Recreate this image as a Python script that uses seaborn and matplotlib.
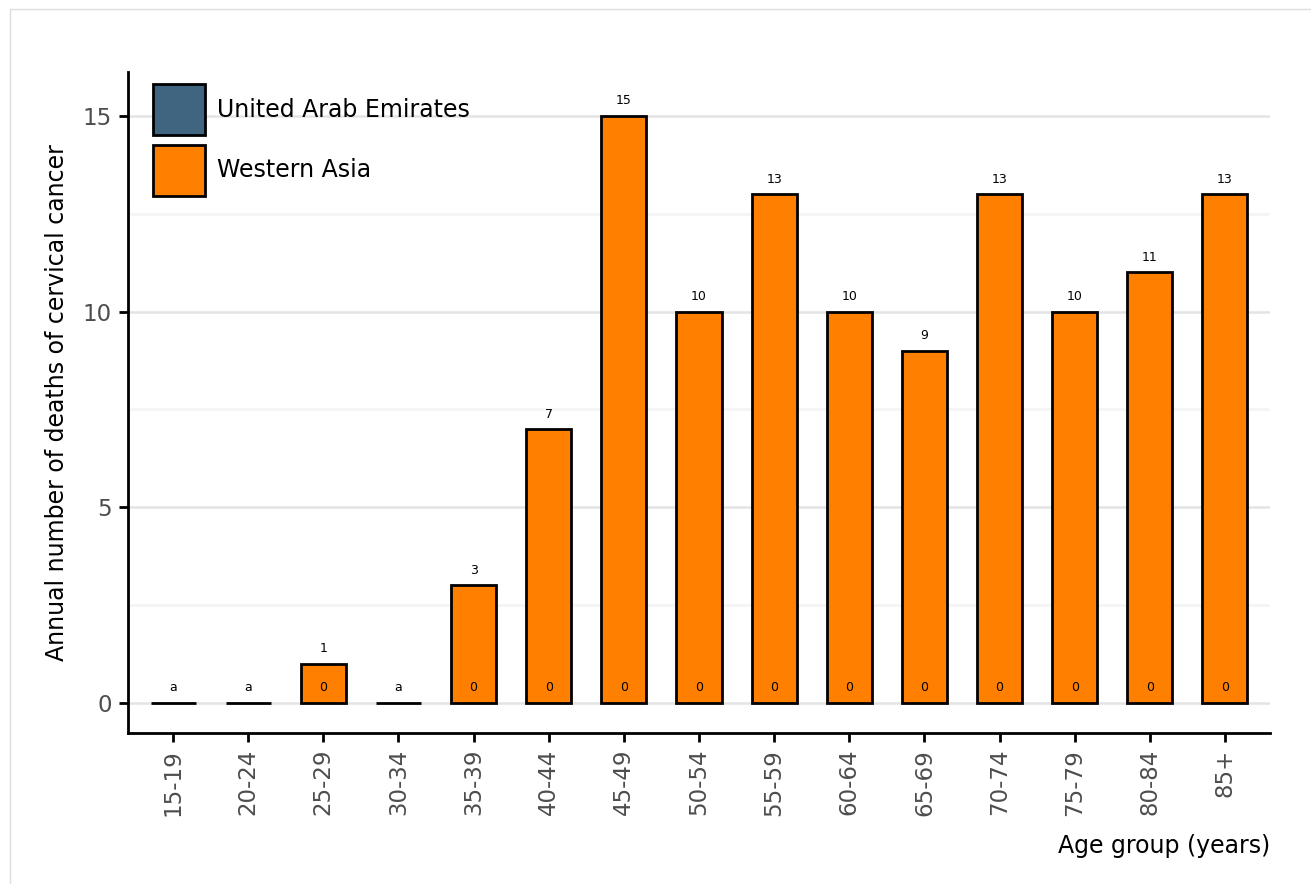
import matplotlib
matplotlib.use("Agg")
import matplotlib.pyplot as plt
import matplotlib.patches as mpatches
import matplotlib.lines as mlines
import seaborn as sns
import pandas as pd

# ---- data ----
age_groups = ["15-19", "20-24", "25-29", "30-34", "35-39", "40-44", "45-49",
              "50-54", "55-59", "60-64", "65-69", "70-74", "75-79", "80-84", "85+"]
western_asia = [0, 0, 1, 0, 3, 7, 15, 10, 13, 10, 9, 13, 10, 11, 13]
uae = [None, None, 0, None, 0, 0, 0, 0, 0, 0, 0, 0, 0, 0, 0]
series_names = ["United Arab Emirates", "Western Asia"]
series_colors = ["#3f6580", "#ff7f00"]

sns.set_theme(style="white")
plt.rcParams["font.family"] = ["DejaVu Sans"]
plt.rcParams["text.color"] = "black"
plt.rcParams["axes.labelcolor"] = "black"

fig = plt.figure(figsize=(13.11, 8.84), dpi=100)
ax = fig.add_axes([128 / 1311, 1 - 733 / 884, 1142 / 1311, 661 / 884])

# figure frame (light grey)
fig.add_artist(mlines.Line2D([10 / 1311, 1.0], [1 - 9 / 884, 1 - 9 / 884],
                             transform=fig.transFigure, color="#dddddd", lw=1))
fig.add_artist(mlines.Line2D([10 / 1311, 10 / 1311], [0, 1 - 9 / 884],
                             transform=fig.transFigure, color="#dddddd", lw=1))

df = pd.DataFrame({"age": age_groups, "deaths": western_asia})

# grid
for y in [2.5, 7.5, 12.5]:
    ax.axhline(y, color="#f4f4f4", lw=1.8, zorder=0)
for y in [0, 5, 10, 15]:
    ax.axhline(y, color="#e4e4e4", lw=1.8, zorder=0)

sns.barplot(data=df, x="age", y="deaths", color=series_colors[1], saturation=1,
            edgecolor="black", linewidth=2, width=0.6, ax=ax, zorder=2)

# labels
for i, (w, u) in enumerate(zip(western_asia, uae)):
    top = "a" if w == 0 else str(w)
    ax.text(i, w + 0.38, top, ha="center", va="center", fontsize=9, color="black", zorder=3)
    if u is not None:
        ax.text(i, 0.4, str(u), ha="center", va="center", fontsize=9, color="black", zorder=3)

ax.set_xlim(-0.6, 14.6)
ax.set_ylim(-0.77, 16.12)
ax.set_yticks([0, 5, 10, 15])

for s in ["top", "right"]:
    ax.spines[s].set_visible(False)
for s in ["left", "bottom"]:
    ax.spines[s].set_color("black")
    ax.spines[s].set_linewidth(2)

ax.tick_params(axis="both", which="major", length=6.5, width=2, color="black",
               labelcolor="#4d4d4d", labelsize=16.5, pad=5, bottom=True, left=True)
ax.tick_params(axis="x", labelrotation=90)

ax.set_xlabel("Age group (years)", fontsize=17, color="black", loc="right", labelpad=13)
ax.set_ylabel("Annual number of deaths of cervical cancer", fontsize=17, color="black", labelpad=10)

handles = [mpatches.Patch(facecolor=c, edgecolor="black", linewidth=2, label=n)
           for n, c in zip(series_names, series_colors)]
leg = ax.legend(handles=handles, loc="upper left",
                bbox_to_anchor=(25 / 1142, 1 - 12 / 661), borderaxespad=0, borderpad=0,
                frameon=False, fontsize=17, handlelength=2.2, handleheight=2.97,
                handletextpad=0.5, labelspacing=0.4)
for t in leg.get_texts():
    t.set_color("black")

fig.savefig("out.png", dpi=100)
